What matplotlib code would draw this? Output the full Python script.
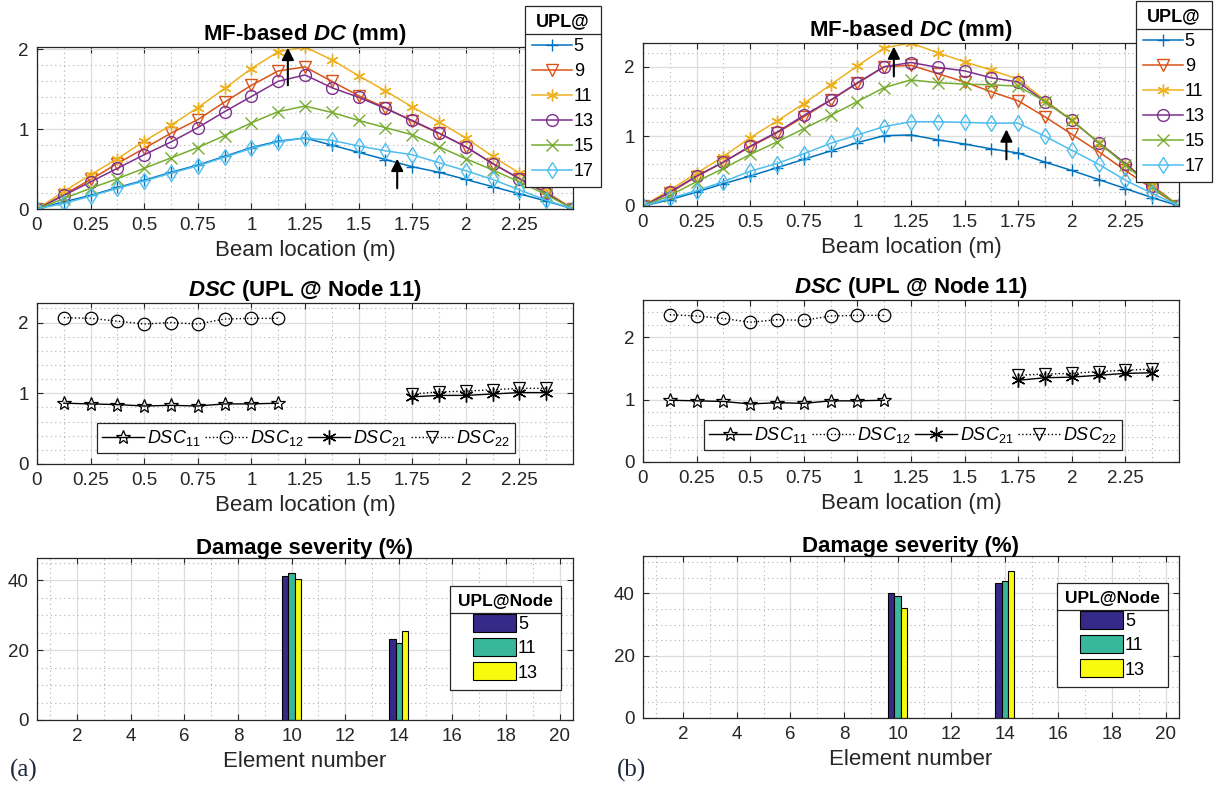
import numpy as np
import matplotlib
matplotlib.use("Agg")
import matplotlib.pyplot as plt
from matplotlib.ticker import MultipleLocator, FixedLocator
from matplotlib.lines import Line2D

plt.rcParams["font.family"] = ["Liberation Sans", "DejaVu Sans"]
plt.rcParams["mathtext.fontset"] = "custom"
plt.rcParams["mathtext.rm"] = "Liberation Sans"
plt.rcParams["mathtext.it"] = "Liberation Sans:italic"
plt.rcParams["mathtext.bf"] = "Liberation Sans:bold"
plt.rcParams["mathtext.bfit"] = "Liberation Sans:italic:bold"

# beam: 20 elements, 21 nodes
beam_len = 2.5
n_elem = 20
nodes = np.arange(n_elem + 1) * beam_len / n_elem

upl_nodes = ["5", "9", "11", "13", "15", "17"]
upl_colors = ["#0072BD", "#D95319", "#EDB120", "#7E2F8E", "#77AC30", "#4DBEEE"]
upl_markers = ["+", "v", (6, 2, 0), "o", "x", "d"]

# MF-based DC (mm), case (a)
dc_a_5 = [0, 0.09, 0.17, 0.27, 0.36, 0.46, 0.55, 0.66, 0.77, 0.85, 0.89, 0.80, 0.71, 0.62, 0.53, 0.46, 0.37, 0.28, 0.19, 0.10, 0]
dc_a_9 = [0, 0.18, 0.37, 0.57, 0.76, 0.95, 1.12, 1.34, 1.55, 1.73, 1.78, 1.60, 1.42, 1.27, 1.10, 0.95, 0.78, 0.57, 0.38, 0.20, 0]
dc_a_11 = [0, 0.22, 0.43, 0.63, 0.85, 1.05, 1.27, 1.51, 1.76, 1.97, 2.03, 1.87, 1.67, 1.48, 1.28, 1.09, 0.89, 0.66, 0.45, 0.22, 0]
dc_a_13 = [0, 0.17, 0.34, 0.51, 0.68, 0.84, 1.02, 1.22, 1.41, 1.60, 1.68, 1.52, 1.40, 1.26, 1.11, 0.95, 0.78, 0.57, 0.38, 0.20, 0]
dc_a_15 = [0, 0.13, 0.26, 0.38, 0.51, 0.64, 0.77, 0.92, 1.08, 1.22, 1.29, 1.21, 1.11, 1.02, 0.93, 0.78, 0.63, 0.49, 0.34, 0.18, 0]
dc_a_17 = [0, 0.07, 0.16, 0.26, 0.35, 0.45, 0.54, 0.65, 0.76, 0.84, 0.89, 0.86, 0.79, 0.73, 0.68, 0.58, 0.48, 0.37, 0.24, 0.11, 0]

# MF-based DC (mm), case (b)
dc_b_5 = [0, 0.09, 0.20, 0.32, 0.43, 0.55, 0.67, 0.79, 0.91, 1.01, 1.02, 0.95, 0.89, 0.82, 0.76, 0.63, 0.51, 0.38, 0.25, 0.12, 0]
dc_b_9 = [0, 0.19, 0.42, 0.63, 0.85, 1.05, 1.28, 1.52, 1.76, 2.00, 2.02, 1.90, 1.78, 1.64, 1.51, 1.28, 1.03, 0.78, 0.51, 0.25, 0]
dc_b_11 = [0, 0.23, 0.47, 0.71, 0.98, 1.22, 1.47, 1.74, 2.01, 2.27, 2.34, 2.20, 2.07, 1.95, 1.82, 1.52, 1.23, 0.91, 0.61, 0.30, 0]
dc_b_13 = [0, 0.20, 0.43, 0.63, 0.86, 1.06, 1.30, 1.52, 1.77, 2.00, 2.06, 1.99, 1.94, 1.84, 1.78, 1.50, 1.23, 0.91, 0.61, 0.28, 0]
dc_b_15 = [0, 0.15, 0.35, 0.54, 0.74, 0.92, 1.11, 1.30, 1.50, 1.70, 1.81, 1.77, 1.75, 1.74, 1.72, 1.50, 1.23, 0.91, 0.59, 0.27, 0]
dc_b_17 = [0, 0.11, 0.22, 0.35, 0.50, 0.61, 0.75, 0.90, 1.02, 1.14, 1.21, 1.21, 1.20, 1.19, 1.19, 1.00, 0.80, 0.60, 0.37, 0.18, 0]

# arrows (x, y start, y end)
arrows_a = [(1.17, 1.55, 2.02), (1.68, 0.26, 0.63)]
arrows_b = [(1.17, 1.86, 2.29), (1.695, 0.67, 1.10)]

# DSC (UPL @ Node 11)
dsc_left_nodes = list(range(1, 10))
dsc_right_nodes = list(range(14, 20))
dsc_a_11 = [0.86, 0.85, 0.84, 0.82, 0.83, 0.82, 0.85, 0.85, 0.86]
dsc_a_12 = [2.07, 2.06, 2.02, 1.98, 2.00, 1.98, 2.05, 2.06, 2.06]
dsc_a_21 = [0.95, 0.97, 0.97, 0.99, 1.01, 1.01]
dsc_a_22 = [0.99, 1.02, 1.03, 1.05, 1.07, 1.07]
dsc_b_11 = [0.99, 0.98, 0.97, 0.93, 0.95, 0.94, 0.98, 0.98, 0.99]
dsc_b_12 = [2.36, 2.34, 2.30, 2.24, 2.28, 2.27, 2.34, 2.35, 2.35]
dsc_b_21 = [1.31, 1.35, 1.36, 1.39, 1.42, 1.43]
dsc_b_22 = [1.39, 1.41, 1.42, 1.45, 1.47, 1.49]

# Damage severity (%)
ds_elements = [10, 14]
ds_upl = ["5", "11", "13"]
ds_colors = ["#352A87", "#38B79B", "#F9FB0E"]
ds_a = [[41.3, 23.2], [42.1, 22.1], [40.3, 25.3]]
ds_b = [[40.3, 43.2], [39.1, 44.0], [35.2, 47.3]]

W, H = 1215, 787
fig = plt.figure(figsize=(W / 100, H / 100), dpi=100)


def rect(x0, y0, x1, y1):
    return [x0 / W, 1 - y1 / H, (x1 - x0) / W, (y1 - y0) / H]


def style(ax, xminor, yminor):
    ax.set_axisbelow(True)
    ax.xaxis.set_minor_locator(MultipleLocator(xminor))
    ax.yaxis.set_minor_locator(MultipleLocator(yminor))
    ax.grid(True, which="major", color="#dddddd", lw=0.9, ls="-")
    ax.grid(True, which="minor", color="#b0b0b0", lw=0.8, ls=(0, (1, 3)))
    ax.tick_params(which="major", direction="in", length=4, width=0.8, top=True, right=True,
                   labelsize=13.5, labelcolor="#262626", color="#262626", pad=6)
    ax.tick_params(which="minor", length=0)
    for s in ax.spines.values():
        s.set_color("#262626")
        s.set_linewidth(0.9)


def legend_title_line(leg):
    fig.canvas.draw()
    bb = leg.get_frame().get_window_extent()
    tb = leg.get_title().get_window_extent()
    y = (tb.y0 - 4) / H
    fig.add_artist(Line2D([bb.x0 / W, bb.x1 / W], [y, y], transform=fig.transFigure,
                          color="#262626", lw=0.9))


def dc_panel(ax, series, arrows, leg_box):
    for vals, c, m, lab in zip(series, upl_colors, upl_markers, upl_nodes):
        ax.plot(nodes, vals, color=c, marker=m, ms=8.5, mfc="none", mew=1.0, lw=1.1, label=lab)
    for x, y0, y1 in arrows:
        ax.annotate("", xy=(x, y1), xytext=(x, y0),
                    arrowprops=dict(arrowstyle="-|>", color="k", lw=1.5, mutation_scale=18,
                                    shrinkA=0, shrinkB=0))
    ax.set_xlim(0, beam_len)
    ax.set_ylim(0, max(max(v) for v in series))
    ax.xaxis.set_major_locator(FixedLocator(np.arange(0, 2.26, 0.25)))
    ax.set_xticklabels(["0", "0.25", "0.5", "0.75", "1", "1.25", "1.5", "1.75", "2", "2.25"])
    ax.yaxis.set_major_locator(MultipleLocator(1))
    style(ax, 0.125, 0.2)
    ax.set_title(r"MF-based $\mathbfit{DC}$ (mm)", fontsize=16, fontweight="bold", pad=5)
    ax.set_xlabel("Beam location (m)", fontsize=16, color="#262626", labelpad=4)
    leg = ax.legend(title="UPL@", loc="upper right", bbox_to_anchor=leg_box,
                    bbox_transform=fig.transFigure, fontsize=13, title_fontproperties={"weight": "bold", "size": 13},
                    handlelength=2.2, labelspacing=0.44, handletextpad=0.1, borderpad=0.4,
                    fancybox=False, framealpha=1, edgecolor="#262626", borderaxespad=0)
    leg.get_frame().set_linewidth(0.9)
    return leg


def dsc_panel(ax, v11, v12, v21, v22, leg_center):
    xl = nodes[dsc_left_nodes]
    xr = nodes[dsc_right_nodes]
    ax.plot(xl, v11, color="k", ls="-", marker="*", ms=10, mfc="none", mew=0.9, lw=1.0, label=r"$DSC_{\mathit{11}}$")
    ax.plot(xl, v12, color="k", ls=":", marker="o", ms=9, mfc="none", mew=0.9, lw=1.0, label=r"$DSC_{\mathit{12}}$")
    ax.plot(xr, v21, color="k", ls="-", marker=(6, 2, 0), ms=10, mew=1.0, lw=1.0, label=r"$DSC_{\mathit{21}}$")
    ax.plot(xr, v22, color="k", ls=":", marker="v", ms=9, mfc="none", mew=0.9, lw=1.0, label=r"$DSC_{\mathit{22}}$")
    ax.set_xlim(0, beam_len)
    ax.set_ylim(0, 1.1 * max(max(v11), max(v12), max(v21), max(v22)))
    ax.xaxis.set_major_locator(FixedLocator(np.arange(0, 2.26, 0.25)))
    ax.set_xticklabels(["0", "0.25", "0.5", "0.75", "1", "1.25", "1.5", "1.75", "2", "2.25"])
    ax.yaxis.set_major_locator(MultipleLocator(1))
    style(ax, 0.125, 0.2)
    ax.set_title(r"$\mathbfit{DSC}$ (UPL @ Node 11)", fontsize=16, fontweight="bold", pad=5)
    ax.set_xlabel("Beam location (m)", fontsize=16, color="#262626", labelpad=4)
    leg = ax.legend(loc="center", bbox_to_anchor=leg_center, bbox_transform=fig.transFigure, ncol=4,
                    fontsize=13, handlelength=2.3, handletextpad=0.2, columnspacing=0.25, borderpad=0.3,
                    fancybox=False, framealpha=1, edgecolor="#262626")
    leg.get_frame().set_linewidth(0.9)


def ds_panel(ax, vals, leg_box):
    x = np.array(ds_elements, dtype=float)
    w = 0.24
    for i, (v, c, lab) in enumerate(zip(vals, ds_colors, ds_upl)):
        ax.bar(x + (i - 1) * w, v, width=w, color=c, edgecolor="k", lw=0.8, label=lab)
    ax.set_xlim(0.5, 20.5)
    ax.set_ylim(0, 1.1 * max(max(v) for v in vals))
    ax.xaxis.set_major_locator(MultipleLocator(2))
    ax.yaxis.set_major_locator(MultipleLocator(20))
    style(ax, 1, 5)
    ax.set_title("Damage severity (%)", fontsize=16, fontweight="bold", pad=3)
    ax.set_xlabel("Element number", fontsize=16, color="#262626", labelpad=4)
    leg = ax.legend(title="UPL@Node", loc="upper right", bbox_to_anchor=leg_box,
                    bbox_transform=fig.transFigure, fontsize=13, title_fontproperties={"weight": "bold", "size": 12.5},
                    handlelength=2.4, handleheight=1.15, labelspacing=0.28, handletextpad=0.1, borderpad=0.45,
                    fancybox=False, framealpha=1, edgecolor="#262626", borderaxespad=0)
    leg.get_frame().set_linewidth(0.9)
    return leg


ax1 = fig.add_axes(rect(37, 47, 573, 209))
ax2 = fig.add_axes(rect(643, 43, 1179, 206))
ax3 = fig.add_axes(rect(37, 303, 573, 464))
ax4 = fig.add_axes(rect(643, 300, 1179, 462))
ax5 = fig.add_axes(rect(37, 558, 573, 720))
ax6 = fig.add_axes(rect(643, 556, 1179, 718))

legs = []
legs.append(dc_panel(ax1, [dc_a_5, dc_a_9, dc_a_11, dc_a_13, dc_a_15, dc_a_17], arrows_a, (601 / W, 1 - 6 / H)))
legs.append(dc_panel(ax2, [dc_b_5, dc_b_9, dc_b_11, dc_b_13, dc_b_15, dc_b_17], arrows_b, (1212 / W, 1 - 1 / H)))
dsc_panel(ax3, dsc_a_11, dsc_a_12, dsc_a_21, dsc_a_22, (306 / W, 1 - 438 / H))
dsc_panel(ax4, dsc_b_11, dsc_b_12, dsc_b_21, dsc_b_22, (913 / W, 1 - 435 / H))
legs.append(ds_panel(ax5, ds_a, (561 / W, 1 - 586 / H)))
legs.append(ds_panel(ax6, ds_b, (1168 / W, 1 - 583 / H)))

fig.text(10 / W, 1 - 770 / H, "(a)", fontsize=18, family="Liberation Serif", color="#1f2840", va="center")
fig.text(617 / W, 1 - 770 / H, "(b)", fontsize=18, family="Liberation Serif", color="#1f2840", va="center")

for leg in legs:
    legend_title_line(leg)

fig.savefig("out.png", dpi=100)
